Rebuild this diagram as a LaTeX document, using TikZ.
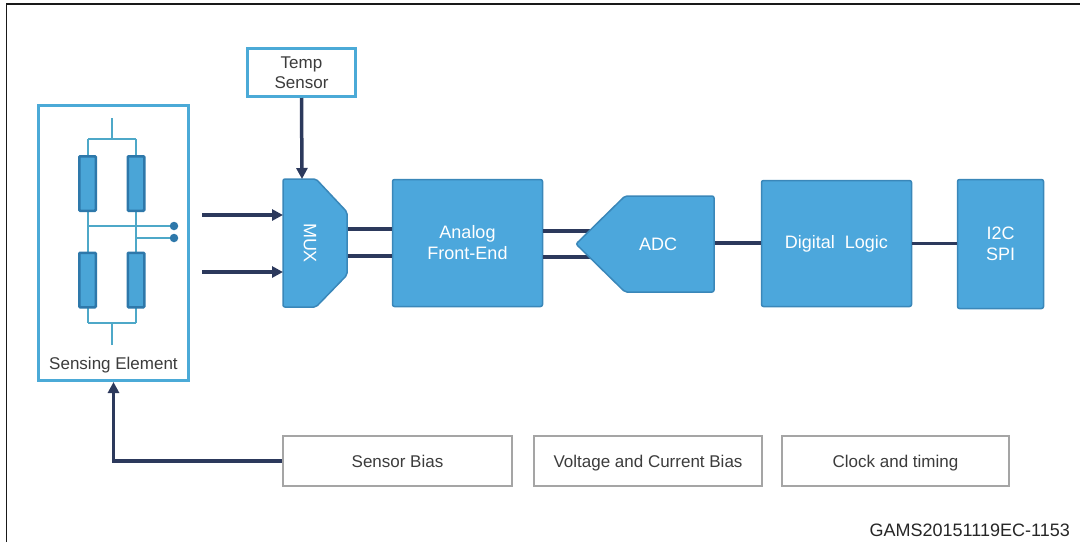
\documentclass[tikz,border=0pt]{standalone}
\usepackage{fontspec}
\setmainfont{Liberation Sans}
\usetikzlibrary{arrows.meta,calc,shadows}
\definecolor{bfill}{RGB}{76,167,220}
\definecolor{bline}{RGB}{58,135,185}
\definecolor{obox}{RGB}{75,170,215}
\definecolor{navy}{RGB}{44,57,92}
\definecolor{wire}{RGB}{78,168,200}
\definecolor{resfill}{RGB}{74,165,215}
\definecolor{resline}{RGB}{46,120,170}
\definecolor{gbox}{RGB}{165,165,165}
\definecolor{txt}{RGB}{60,60,60}
\begin{document}
\begin{tikzpicture}[x=1pt,y=-1pt,
  bluebox/.style={draw=bline, fill=bfill, line width=1.5pt, rounded corners=2pt, text=white,
    font=\fontsize{18}{21}\selectfont, align=center, inner sep=0pt},
  blueshape/.style={draw=bline, fill=bfill, line width=1.5pt, rounded corners=2pt},
  bluetext/.style={text=white, font=\fontsize{18}{21}\selectfont, align=center, inner sep=0pt},
  outbox/.style={draw=obox, fill=white, line width=3pt, text=txt,
    font=\fontsize{17}{20}\selectfont, align=center, inner sep=0pt},
  greybox/.style={draw=gbox, fill=white, line width=2.5pt, text=txt,
    font=\fontsize{17}{20}\selectfont, inner sep=0pt, text height=12.5pt, text depth=0pt,
    drop shadow={shadow xshift=1pt, shadow yshift=-1.2pt, opacity=0.25, fill=black}},
  plaintext/.style={text=txt, font=\fontsize{17}{20}\selectfont, inner sep=0pt},
  bus/.style={draw=navy, line width=3.5pt},
  arr/.style={bus, -{Triangle[length=11pt,width=11pt]}},
  wirel/.style={draw=wire, line width=2pt},
  resistor/.style={draw=resline, fill=resfill, line width=2.5pt, rounded corners=1pt,
    minimum width=16.5pt, minimum height=54.5pt, inner sep=0pt},
  dotn/.style={circle, fill=resline, minimum size=8.5pt, inner sep=0pt}
]
\useasboundingbox (0,0) rectangle (1080,542);
% outer frame
\draw[line width=1.8pt, black!90] (6.5,542) -- (6.5,4) -- (1080,4);

% ---- nodes ----
\node[outbox, minimum width=150pt, minimum height=275pt] (sense) at (113.5,243) {};
\node[plaintext] (sensetxt) at (113.5,365) {Sensing Element};
\node[outbox, minimum width=108pt, minimum height=48pt] (temp) at (301.5,72.5) {Temp\\Sensor};

\node[bluebox, minimum width=150pt, minimum height=127pt] (afe) at (467.5,243) {Analog\\Front-End};
\node[bluebox, minimum width=150pt, minimum height=126pt] (dl) at (836.5,243.5) {Digital~~Logic};
\node[bluebox, minimum width=86pt, minimum height=129pt] (i2c) at (1000.5,244) {I2C\\SPI};

\node[greybox, minimum width=229pt, minimum height=50pt] (sbias) at (397.5,461) {Sensor Bias};
\node[greybox, minimum width=228pt, minimum height=50pt] (vbias) at (648,461) {Voltage and Current Bias};
\node[greybox, minimum width=227pt, minimum height=50pt] (clock) at (895.5,461) {Clock and timing};

\node[text=black!85, font=\fontsize{18}{21}\selectfont, inner sep=0pt, anchor=east] (code) at (1070,530) {GAMS20151119EC-1153};

% ---- coordinates of shapes ----
\coordinate (muxtop) at (302,179);
\coordinate (muxi1) at (283,215);
\coordinate (muxi2) at (283,272);
\coordinate (muxo1) at (347,229);
\coordinate (muxo2) at (347,256);
\coordinate (in1) at (202,215);
\coordinate (in2) at (202,272);
\coordinate (adci1) at (605,231);
\coordinate (adci2) at (605,257);
\coordinate (adco) at (714,243);

% ---- connectors (under shapes) ----
\draw[bus] (muxo1) -- (muxo1 -| afe.west);
\draw[bus] (muxo2) -- (muxo2 -| afe.west);
\draw[bus] (afe.east |- adci1) -- (adci1);
\draw[bus] (afe.east |- adci2) -- (adci2);
\draw[bus] (adco) -- (adco -| dl.west);
\draw[bus] (dl.east) -- (dl.east -| i2c.west);

% ---- MUX ----
\path[blueshape] (283,179) -- (316,179) -- (347,212) -- (347,275) -- (316,307) -- (283,307) -- cycle;
\node[bluetext, rotate=-90] (mux) at (310,243) {MUX};
% ---- ADC ----
\path[blueshape] (576,244) -- (625,196) -- (714,196) -- (714,292) -- (625,292) -- cycle;
\node[bluetext] (adc) at (658,244) {ADC};

% ---- arrows ----
\draw[arr] (in1) -- (muxi1);
\draw[arr] (in2) -- (muxi2);
\draw[arr] (temp.south) -- (muxtop);
\draw[arr] (sbias.west) -| (sense.south);

% ---- bridge inside sensing element ----
\coordinate (wtop) at (112,118);
\coordinate (wtopj) at (112,139);
\coordinate (wbot) at (112,345);
\coordinate (wbotj) at (112,323);
\node[dotn] (d1) at (174,226) {};
\node[dotn] (d2) at (174,238) {};
\draw[wirel] (wtop) -- (wtopj);
\draw[wirel] (wbot) -- (wbotj);
\draw[wirel] (88,139) -- (136,139);
\draw[wirel] (88,323) -- (136,323);
\draw[wirel] (88,139) -- (88,323);
\draw[wirel] (136,139) -- (136,323);
\draw[wirel] (88,226) -- (d1);
\draw[wirel] (136,238) -- (d2);
\node[resistor] (r1) at (87.5,183.5) {};
\node[resistor] (r2) at (136,183.5) {};
\node[resistor] (r3) at (87.5,280) {};
\node[resistor] (r4) at (136,280) {};
\end{tikzpicture}
\end{document}
